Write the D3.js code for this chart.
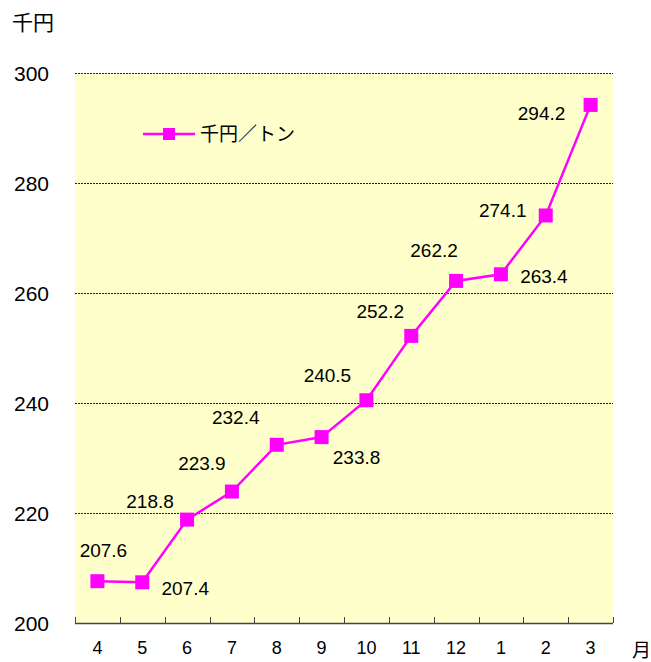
<!DOCTYPE html>
<html><head><meta charset="utf-8">
<script src="https://cdn.jsdelivr.net/npm/d3@7"></script>
<style>
html,body{margin:0;padding:0;background:#fff;}
svg{display:block;}
</style></head>
<body>
<svg id="chart" width="651" height="662"></svg>
<script>
// ---- data ----
const months = ["4","5","6","7","8","9","10","11","12","1","2","3"];
const values = [207.6, 207.4, 218.8, 223.9, 232.4, 233.8, 240.5, 252.2, 262.2, 263.4, 274.1, 294.2];
const yTicks = [200, 220, 240, 260, 280, 300];
const seriesName = "千円／トン";
const yUnit = "千円";
const xUnit = "月";
// label placement relative to each point (style)
const labelOffsets = [[6,-31],[43,6],[-37,-18],[-30,-28],[-41,-28],[35,20],[-39,-25],[-31,-25],[-22,-31],[43,2],[-43,-5],[-49,8]];

const svg = d3.select("#chart");
const L = 75, R = 613, T = 73, B = 623;
const color = "#FF00FF";
const numFont = "'Liberation Sans', Arial, sans-serif";
const jpFont = "'Noto Sans CJK JP', sans-serif";

const x = d3.scaleBand().domain(months).range([L, R]).paddingInner(0).paddingOuter(0);
const y = d3.scaleLinear().domain([200, 300]).range([B, T]);

// background
svg.append("rect").attr("x", L).attr("y", T).attr("width", R - L).attr("height", B - T).attr("fill", "#FFFFCC");

// grid lines
svg.append("g").selectAll("line").data(yTicks.filter(d => d > 200)).join("line")
  .attr("x1", L).attr("x2", R)
  .attr("y1", d => y(d) + 0.5).attr("y2", d => y(d) + 0.5)
  .attr("stroke", "#222").attr("stroke-width", 1).attr("stroke-dasharray", "2,1");

// y tick labels
svg.append("g").selectAll("text").data(yTicks).join("text")
  .attr("x", 49).attr("y", d => y(d)).attr("dy", "0.36em")
  .attr("text-anchor", "end")
  .attr("font-family", numFont).attr("font-size", 21).attr("fill", "#000")
  .text(d => d);

// x axis
const xAxis = svg.append("g").attr("transform", `translate(0,${B})`);
xAxis.append("line").attr("x1", L).attr("x2", R).attr("y1", 0.5).attr("y2", 0.5)
  .attr("stroke", "#444").attr("stroke-width", 1.5);
const bounds = months.map(m => x(m)).concat([R]);
xAxis.selectAll("line.tick").data(bounds).join("line").attr("class", "tick")
  .attr("x1", d => Math.round(d) + 0.5).attr("x2", d => Math.round(d) + 0.5)
  .attr("y1", 0).attr("y2", -6).attr("stroke", "#444").attr("stroke-width", 1);
xAxis.selectAll("text").data(months).join("text")
  .attr("x", d => x(d) + x.bandwidth() / 2).attr("y", 25).attr("dy", "0.36em")
  .attr("text-anchor", "middle")
  .attr("font-family", numFont).attr("font-size", 18).attr("fill", "#000")
  .text(d => d);

// unit labels
svg.append("text").attr("x", 12).attr("y", 22).attr("dy", "0.36em")
  .attr("font-family", jpFont).attr("font-size", 21).attr("fill", "#000").text(yUnit);
svg.append("text").attr("x", 632).attr("y", 650).attr("dy", "0.36em")
  .attr("font-family", jpFont).attr("font-size", 19).attr("fill", "#000").text(xUnit);

// line
const pts = months.map((m, i) => [x(m) + x.bandwidth() / 2, y(values[i])]);
svg.append("path").datum(pts)
  .attr("d", d3.line())
  .attr("fill", "none").attr("stroke", color).attr("stroke-width", 2.5);

// markers
const ms = 14;
svg.append("g").selectAll("rect").data(pts).join("rect")
  .attr("x", d => d[0] - ms / 2).attr("y", d => d[1] - ms / 2)
  .attr("width", ms).attr("height", ms).attr("fill", color);

// data labels
svg.append("g").selectAll("text").data(values).join("text")
  .attr("x", (d, i) => pts[i][0] + labelOffsets[i][0])
  .attr("y", (d, i) => pts[i][1] + labelOffsets[i][1])
  .attr("dy", "0.36em").attr("text-anchor", "middle")
  .attr("font-family", numFont).attr("font-size", 19).attr("fill", "#000")
  .text(d => d.toFixed(1));

// legend
const lg = svg.append("g");
lg.append("line").attr("x1", 143).attr("x2", 195).attr("y1", 134).attr("y2", 134)
  .attr("stroke", color).attr("stroke-width", 2.5);
lg.append("rect").attr("x", 163).attr("y", 128).attr("width", 12).attr("height", 12).attr("fill", color);
lg.append("text").attr("x", 200).attr("y", 134).attr("dy", "0.36em")
  .attr("font-family", jpFont).attr("font-size", 19).attr("fill", "#000").text(seriesName);
</script>
</body></html>
